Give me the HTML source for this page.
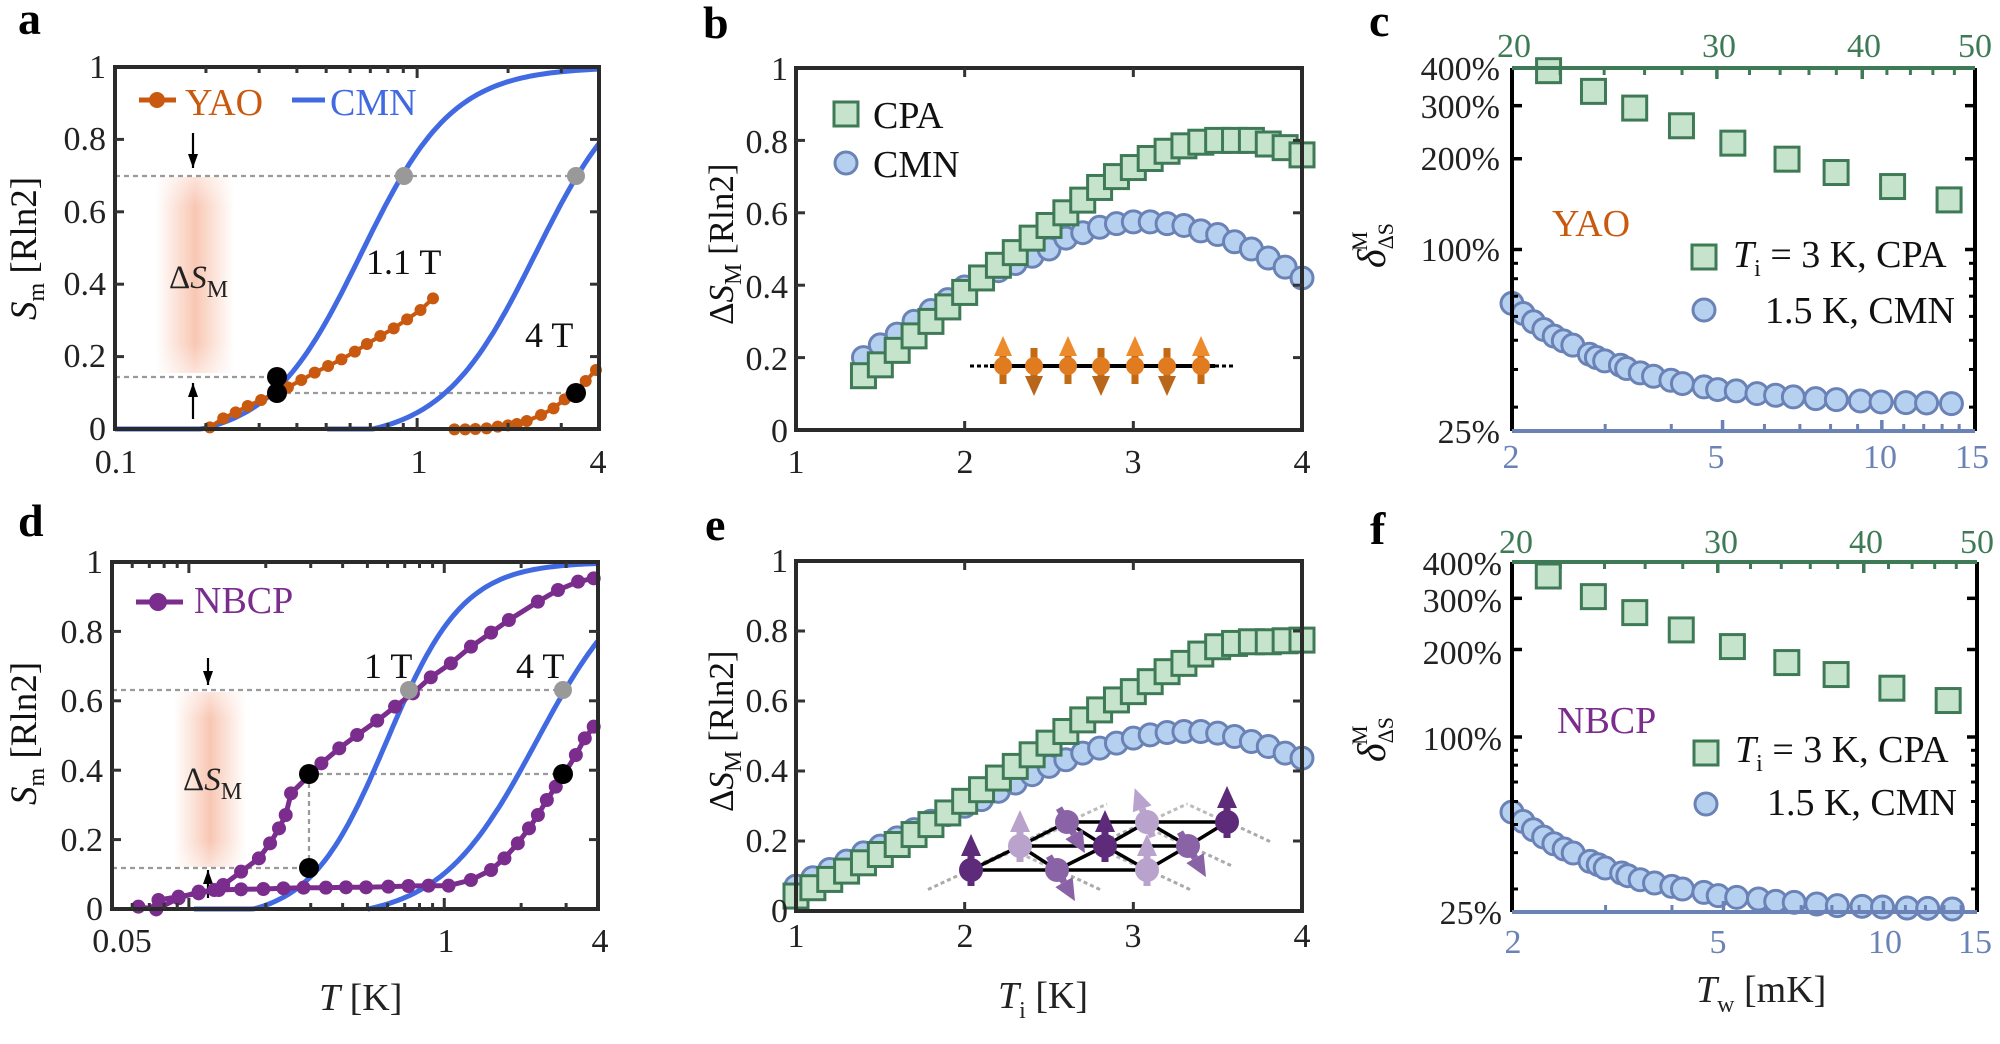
<!DOCTYPE html>
<html><head><meta charset="utf-8">
<style>
html,body{margin:0;padding:0;background:#fff;}
svg{display:block;}
text{font-family:"Liberation Serif","DejaVu Serif",serif;}
.t{font-size:34px;fill:#222;}
.lg{font-size:38px;}
.lt{font-size:46px;font-weight:bold;fill:#000;}
</style></head>
<body>
<svg id="s" xmlns="http://www.w3.org/2000/svg" width="2000" height="1044" viewBox="0 0 2000 1044" font-family="Liberation Serif, DejaVu Serif, serif">
<defs>
<linearGradient id="sh" x1="0" x2="1" y1="0" y2="0">
<stop offset="0" stop-color="#f7b9a0" stop-opacity="0"/>
<stop offset="0.5" stop-color="#f6b49a" stop-opacity="0.75"/>
<stop offset="1" stop-color="#f7b9a0" stop-opacity="0"/>
</linearGradient>
<linearGradient id="shv" x1="0" x2="0" y1="0" y2="1">
<stop offset="0" stop-color="#fff" stop-opacity="0.5"/>
<stop offset="0.15" stop-color="#fff" stop-opacity="0"/>
<stop offset="0.85" stop-color="#fff" stop-opacity="0"/>
<stop offset="1" stop-color="#fff" stop-opacity="0.5"/>
</linearGradient>
</defs>
<g id="g"></g>

<text class="lt" x="18" y="34">a</text>
<text class="lt" x="703" y="38">b</text>
<text class="lt" x="1369" y="36">c</text>
<text class="lt" x="18" y="536">d</text>
<text class="lt" x="705" y="540">e</text>
<text class="lt" x="1370" y="544">f</text>

<g class="t" text-anchor="end">
<text x="106" y="78">1</text><text x="106" y="150">0.8</text><text x="106" y="223">0.6</text>
<text x="106" y="295">0.4</text><text x="106" y="367">0.2</text><text x="106" y="440">0</text>
</g>
<g class="t" text-anchor="middle">
<text x="116" y="473">0.1</text><text x="419" y="473">1</text><text x="598" y="473">4</text>
</g>
<text class="lg" x="185" y="115" fill="#c8590f">YAO</text>
<text class="lg" x="330" y="115" fill="#4169e1">CMN</text>
<text x="366" y="274" font-size="36" fill="#111">1.1 T</text>
<text x="525" y="347" font-size="36" fill="#111">4 T</text>
<text transform="translate(36,320) rotate(-90)" font-size="37" fill="#111"><tspan font-style="italic">S</tspan><tspan font-size="24" dy="8">m</tspan><tspan dy="-8"> [Rln2]</tspan></text>

<g class="t" text-anchor="end">
<text x="788" y="80">1</text><text x="788" y="153">0.8</text><text x="788" y="225">0.6</text>
<text x="788" y="298">0.4</text><text x="788" y="370">0.2</text><text x="788" y="442">0</text>
</g>
<g class="t" text-anchor="middle">
<text x="796" y="473">1</text><text x="965" y="473">2</text><text x="1133" y="473">3</text><text x="1302" y="473">4</text>
</g>
<text class="lg" x="873" y="128" fill="#111">CPA</text>
<text class="lg" x="873" y="177" fill="#111">CMN</text>
<text transform="translate(733,325) rotate(-90)" font-size="35" fill="#111">Δ<tspan font-style="italic">S</tspan><tspan font-size="24" dy="8">M</tspan><tspan dy="-8"> [Rln2]</tspan></text>

<g class="t" text-anchor="end">
<text x="1500" y="80">400%</text><text x="1500" y="118">300%</text><text x="1500" y="170">200%</text>
<text x="1500" y="261">100%</text><text x="1500" y="443">25%</text>
</g>
<g class="t" text-anchor="middle" style="fill:#3e7a55">
<text x="1514" y="57">20</text><text x="1719" y="57">30</text><text x="1864" y="57">40</text><text x="1975" y="57">50</text>
</g>
<g class="t" text-anchor="middle" style="fill:#6a82b5">
<text x="1511" y="468">2</text><text x="1716" y="468">5</text><text x="1880" y="468">10</text><text x="1972" y="468">15</text>
</g>
<text class="lg" x="1552" y="236" fill="#c8590f">YAO</text>
<text x="1733" y="267" font-size="38" fill="#111"><tspan font-style="italic">T</tspan><tspan font-size="24" dy="9">i</tspan><tspan dy="-9"> = 3 K, CPA</tspan></text>
<text x="1955" y="323" font-size="38" fill="#111" text-anchor="end">1.5 K, CMN</text>
<text transform="translate(1385,268) rotate(-90)" font-size="40" fill="#111"><tspan font-style="italic">δ</tspan><tspan font-size="22" dy="8">ΔS</tspan><tspan font-size="22" dx="-28" dy="-26">M</tspan></text>

<g class="t" text-anchor="end">
<text x="103" y="573">1</text><text x="103" y="643">0.8</text><text x="103" y="712">0.6</text>
<text x="103" y="782">0.4</text><text x="103" y="851">0.2</text><text x="103" y="920">0</text>
</g>
<g class="t" text-anchor="middle">
<text x="122" y="952">0.05</text><text x="446" y="952">1</text><text x="600" y="952">4</text>
</g>
<text class="lg" x="194" y="613" fill="#7b2d8e">NBCP</text>
<text x="364" y="678" font-size="36" fill="#111">1 T</text>
<text x="516" y="678" font-size="36" fill="#111">4 T</text>
<text x="319" y="1010" font-size="38" fill="#222"><tspan font-style="italic">T</tspan> [K]</text>
<text transform="translate(36,805) rotate(-90)" font-size="37" fill="#111"><tspan font-style="italic">S</tspan><tspan font-size="24" dy="8">m</tspan><tspan dy="-8"> [Rln2]</tspan></text>

<g class="t" text-anchor="end">
<text x="788" y="572">1</text><text x="788" y="642">0.8</text><text x="788" y="712">0.6</text>
<text x="788" y="782">0.4</text><text x="788" y="852">0.2</text><text x="788" y="922">0</text>
</g>
<g class="t" text-anchor="middle">
<text x="796" y="947">1</text><text x="965" y="947">2</text><text x="1133" y="947">3</text><text x="1302" y="947">4</text>
</g>
<text x="998" y="1008" font-size="38" fill="#222"><tspan font-style="italic">T</tspan><tspan font-size="24" dy="10">i</tspan><tspan dy="-10"> [K]</tspan></text>
<text transform="translate(733,812) rotate(-90)" font-size="35" fill="#111">Δ<tspan font-style="italic">S</tspan><tspan font-size="24" dy="8">M</tspan><tspan dy="-8"> [Rln2]</tspan></text>

<g class="t" text-anchor="end">
<text x="1502" y="575">400%</text><text x="1502" y="612">300%</text><text x="1502" y="664">200%</text>
<text x="1502" y="750">100%</text><text x="1502" y="924">25%</text>
</g>
<g class="t" text-anchor="middle" style="fill:#3e7a55">
<text x="1516" y="553">20</text><text x="1721" y="553">30</text><text x="1866" y="553">40</text><text x="1977" y="553">50</text>
</g>
<g class="t" text-anchor="middle" style="fill:#6a82b5">
<text x="1513" y="953">2</text><text x="1718" y="953">5</text><text x="1885" y="953">10</text><text x="1975" y="953">15</text>
</g>
<text class="lg" x="1557" y="733" fill="#7b2d8e">NBCP</text>
<text x="1735" y="762" font-size="38" fill="#111"><tspan font-style="italic">T</tspan><tspan font-size="24" dy="9">i</tspan><tspan dy="-9"> = 3 K, CPA</tspan></text>
<text x="1957" y="815" font-size="38" fill="#111" text-anchor="end">1.5 K, CMN</text>
<text transform="translate(1385,762) rotate(-90)" font-size="40" fill="#111"><tspan font-style="italic">δ</tspan><tspan font-size="22" dy="8">ΔS</tspan><tspan font-size="22" dx="-28" dy="-26">M</tspan></text>
<text x="1696" y="1002" font-size="38" fill="#222"><tspan font-style="italic">T</tspan><tspan font-size="24" dy="10">w</tspan><tspan dy="-10">  [mK]</tspan></text>
<text x="169" y="288" font-size="33" fill="#222">Δ<tspan font-style="italic">S</tspan><tspan font-size="24" dy="9">M</tspan></text>
<text x="183" y="790" font-size="33" fill="#222">Δ<tspan font-style="italic">S</tspan><tspan font-size="24" dy="9">M</tspan></text>
</svg>
<script>
(function(){
var NS='http://www.w3.org/2000/svg';
var G=document.getElementById('g');
function el(t,a,p){var e=document.createElementNS(NS,t);for(var k in a)e.setAttribute(k,a[k]);(p||G).appendChild(e);return e;}
function line(x1,y1,x2,y2,c,w,extra){var a={x1:x1,y1:y1,x2:x2,y2:y2,stroke:c,'stroke-width':w};for(var k in extra)a[k]=extra[k];return el('line',a);}
function poly(pts,c,w){el('polyline',{points:pts.map(function(p){return p[0].toFixed(1)+','+p[1].toFixed(1)}).join(' '),fill:'none',stroke:c,'stroke-width':w,'stroke-linejoin':'round'});}
function dot(x,y,r,f,s,sw){el('circle',{cx:x,cy:y,r:r,fill:f,stroke:s||'none','stroke-width':sw||0});}
function sq(x,y,h){el('rect',{x:x-h,y:y-h,width:2*h,height:2*h,fill:'#c6e4cc',stroke:'#3e7a55','stroke-width':3});}
function circ(x,y){dot(x,y,11,'#b6d0f0','#6a82b5',3);}
var BLUE='#4169e1',OR='#c8590f',PU='#7b2d8e',GR='#3e7a55',BG='#6a82b5',DASH='#9a9a9a';
function lg(x){return Math.log(x)/Math.LN10;}
function frame(x0,y0,x1,y1){el('rect',{x:x0,y:y0,width:x1-x0,height:y1-y0,fill:'none',stroke:'#2a2a2a','stroke-width':4});}
function logistic(u,u0,w){return 1/(1+Math.exp(-(u-u0)/w));}
function sharp(u,u0,w){var s=logistic(u,u0,w);var s0=0.03;return Math.max(0,(s-s0)/(1-s0));}
function shade(x0,y0,x1,y1){el('rect',{x:x0,y:y0,width:x1-x0,height:y1-y0,fill:'url(#sh)'});el('rect',{x:x0,y:y0,width:x1-x0,height:y1-y0,fill:'url(#shv)'});}
function arrow(x,y1,y2){line(x,y1,x,y2,'#000',2.2);var d=y2>y1?1:-1;el('polygon',{points:(x-5)+','+(y2-d*14)+' '+(x+5)+','+(y2-d*14)+' '+x+','+y2,fill:'#000'});}
function hticks(xs,y0,y1,len){xs.forEach(function(x){line(x,y0,x,y0+len,'#333',3);line(x,y1,x,y1-len,'#333',3);});}
function vticks(ys,x0,x1,len){ys.forEach(function(y){line(x0,y,x0+len,y,'#333',3);line(x1,y,x1-len,y,'#333',3);});}

/* Panel a */
(function(){
var X0=115,X1=599,Y0=67,Y1=429;
function X(T){return X0+(lg(T)+1)/1.602*(X1-X0);}
function Y(s){return Y1-s*(Y1-Y0);}
shade(156,177,234,373);
line(X0,176,576,176,DASH,2.2,{'stroke-dasharray':'5,4'});
line(X0,377,277,377,DASH,2.2,{'stroke-dasharray':'5,4'});
line(277,393,576,393,DASH,2.2,{'stroke-dasharray':'5,4'});
arrow(193,133,168);arrow(193,419,383);
var p=[];for(var i=0;i<=120;i++){var u=-1+i/120*1.602;p.push([X(Math.pow(10,u)),Y(sharp(u,-0.185,0.152))]);}poly(p,BLUE,5);
p=[];for(i=0;i<=100;i++){var u2=-0.298+i/100*0.9;p.push([X(Math.pow(10,u2)),Y(sharp(u2,0.392,0.155))]);}poly(p,BLUE,5);
var dx=[470,500,528,555,585,615,645,675,705,735,765,795,822,852,882,912,942,970],dy=[1282,1255,1237,1218,1200,1183,1162,1140,1118,1098,1078,1055,1032,1008,985,958,930,895];
p=dx.map(function(d,i){return [d*0.4464,dy[i]/3];});poly(p,OR,4);p.forEach(function(q){dot(q[0],q[1],6,OR);});
dx=[1018,1042,1065,1090,1115,1138,1158,1180,1212,1240,1265,1290,1312,1335];dy=[1288,1288,1287,1285,1280,1276,1272,1263,1245,1225,1198,1180,1143,1110];
p=dx.map(function(d,i){return [d*0.4464,dy[i]/3];});poly(p,OR,4);p.forEach(function(q){dot(q[0],q[1],6,OR);});
dot(404,176,9,'#999');dot(576,176,9,'#999');
dot(277,377,10,'#000');dot(277,393,10,'#000');dot(576,393,10,'#000');
frame(X0,Y0,X1,Y1);
var t=[];[0.2,0.3,0.4,0.5,0.6,0.7,0.8,0.9,2,3].forEach(function(v){t.push(X(v));});hticks(t,Y0,Y1,6);hticks([X(1)],Y0,Y1,11);
vticks([0.2,0.4,0.6,0.8].map(Y),X0,X1,9);
line(139,100,176,100,OR,5);dot(157,100,8,OR);line(292,100,325,100,BLUE,5);
})();

/* Panel b */
(function(){
var X0=796,X1=1302,Y0=68,Y1=430;
function X(T){return X0+(T-1)/3*(X1-X0);}
function Y(v){return Y1-v*(Y1-Y0);}
var cmn=[0.20,0.235,0.265,0.30,0.33,0.36,0.395,0.42,0.44,0.46,0.48,0.50,0.53,0.545,0.56,0.57,0.575,0.575,0.57,0.565,0.55,0.54,0.52,0.50,0.475,0.45,0.42];
var cpa=[0.15,0.18,0.22,0.26,0.30,0.34,0.38,0.42,0.455,0.49,0.53,0.565,0.60,0.635,0.67,0.70,0.725,0.75,0.77,0.785,0.795,0.80,0.80,0.80,0.79,0.78,0.76];
cmn.forEach(function(v,i){circ(X(1.4+0.1*i),Y(v));});
cpa.forEach(function(v,i){sq(X(1.4+0.1*i),Y(v),12);});
frame(X0,Y0,X1,Y1);
hticks([X(2),X(3)],Y0,Y1,9);vticks([0.2,0.4,0.6,0.8].map(Y),X0,X1,9);
sq(846,114,12);circ(846,163);
line(970,366,990,366,'#000',3,{'stroke-dasharray':'4,3'});line(1215,366,1235,366,'#000',3,{'stroke-dasharray':'4,3'});
line(990,366,1215,366,'#000',4);
[1003,1034,1068,1101,1135,1167,1201].forEach(function(x,i){
 var up=(i%2==0);
 el('rect',{x:x-3.5,y:348,width:7,height:36,fill:'#c26a14'});
 if(up){el('polygon',{points:(x-9)+',356 '+(x+9)+',356 '+x+',336',fill:'#ec8a2c'});}
 else{el('polygon',{points:(x-9)+',376 '+(x+9)+',376 '+x+',396',fill:'#b8661c'});}
 dot(x,366,9,'#e07b1f');
});
})();

/* Panels c & f */
function panelCF(Y0,Y1,sqx,sqy,cx,cy,cxspan){
var X0=1512,X1=1975;
if(Y0>400)X1=1977;
var topX=function(v){return X0+(lg(v)-lg(20))/(lg(50)-lg(20))*(X1-X0);};
var botX=function(v){return X0+(lg(v)-lg(2))/(lg(15)-lg(2))*(X1-X0);};
var Yp=function(p){return Y0+(lg(4)-lg(p))/lg(16)*(Y1-Y0);};
cx.forEach(function(d,i){circ(X0+(d-388)/cxspan*(X1-X0),Y0+cy[i]*(Y1-Y0));});
sqx.forEach(function(f,i){sq(X0+f*(X1-X0),Y0+sqy[i]*(Y1-Y0),12);});
line(X0,Y0,X0,Y1,'#000',4);line(X1,Y0,X1,Y1,'#000',4);
line(X0,Y0,X1,Y0,GR,4);line(X0,Y1,X1,Y1,BG,4);
[22,24,26,28,32,34,36,38,42,44,46,48].forEach(function(v){line(topX(v),Y0,topX(v),Y0+7,GR,3);});
[30,40].forEach(function(v){line(topX(v),Y0,topX(v),Y0+11,GR,3.5);});
[3,4,6,7,8,9,11,12,13,14].forEach(function(v){line(botX(v),Y1,botX(v),Y1-7,BG,3);});
[5,10].forEach(function(v){line(botX(v),Y1,botX(v),Y1-11,BG,3.5);});
[3,2,1].forEach(function(p){line(X0,Yp(p),X0+10,Yp(p),'#000',3.5);line(X1,Yp(p),X1-10,Yp(p),'#000',3.5);});
[0.9,0.8,0.7,0.6,0.5,0.4,0.3].forEach(function(p){line(X0,Yp(p),X0+6,Yp(p),'#000',3);line(X1,Yp(p),X1-6,Yp(p),'#000',3);});
}
var cxs=[388,415,440,465,490,512,535,575,592,612,650,665,698,730,772,800,852,885,930,980,1025,1068,1122,1172,1230,1280,1340,1390,1450];
var cyc=[910,940,965,988,1008,1022,1035,1062,1072,1082,1095,1105,1118,1128,1140,1150,1160,1168,1172,1180,1185,1190,1195,1198,1202,1205,1207,1208,1210].map(function(y){return (y-205)/1087;});
panelCF(68,431,[.079,.176,.265,.366,.477,.594,.700,.822,.944],[213,275,325,378,430,478,518,560,600].map(function(y){return (y-205)/1087;}),cxs,cyc,1119);
sq(1704,257,12);circ(1704,310);
var cxf=[388,415,440,465,490,515,537,578,598,615,655,670,700,735,777,803,855,890,935,988,1030,1075,1130,1180,1240,1290,1350,1400,1460];
var cyf=[937,965,990,1012,1032,1048,1060,1085,1095,1105,1120,1128,1140,1150,1160,1168,1178,1188,1193,1198,1205,1208,1213,1218,1220,1222,1225,1226,1228].map(function(y){return (y-186)/1051;});
panelCF(562,912,[.078,.175,.264,.364,.474,.591,.697,.817,.938],[228,290,338,390,440,488,524,565,602].map(function(y){return (y-186)/1051;}),cxf,cyf,1132);
sq(1706,753,12);circ(1706,804);

/* Panel d */
(function(){
var X0=112,X1=598,Y0=562,Y1=909;
function X(T){return X0+(lg(T)-lg(0.05))/1.903*(X1-X0);}
function Y(s){return Y1-s*(Y1-Y0);}
shade(174,692,246,867);
line(X0,690,563,690,DASH,2.2,{'stroke-dasharray':'5,4'});
line(X0,868,309,868,DASH,2.2,{'stroke-dasharray':'5,4'});
line(309,774,563,774,DASH,2.2,{'stroke-dasharray':'5,4'});
line(309,774,309,868,DASH,2.2,{'stroke-dasharray':'5,4'});
arrow(208,658,685);arrow(208,898,870);
var p=[],i,u;
for(i=0;i<=120;i++){u=-0.98+i/120*1.582;p.push([X(Math.pow(10,u)),Y(sharp(u,-0.225,0.15))]);}poly(p,BLUE,5);
p=[];for(i=0;i<=100;i++){u=-0.30+i/100*0.902;p.push([X(Math.pow(10,u)),Y(sharp(u,0.362,0.19))]);}poly(p,BLUE,5);
var ux=[310,350,355,400,445,480,500,540,580,605,625,640,652,690,720,760,800,845,885,925,965,1010,1055,1100,1140,1205,1250,1295,1330],
uy=[1220,1228,1200,1190,1180,1170,1155,1115,1075,1030,985,945,880,830,790,745,705,662,620,580,532,490,440,398,360,305,270,245,235];
p=ux.map(function(d,i){return [d*0.4464,500+uy[i]/3];});poly(p,PU,5);p.forEach(function(q){dot(q[0],q[1],7,PU);});
var lx=[350,400,445,490,540,590,635,680,730,775,820,870,915,960,1005,1055,1100,1130,1160,1185,1205,1225,1245,1262,1290,1310,1330],
ly=[1228,1195,1175,1170,1168,1167,1165,1163,1163,1162,1162,1160,1158,1157,1157,1140,1110,1075,1030,985,945,900,860,825,765,715,680];
p=lx.map(function(d,i){return [d*0.4464,500+ly[i]/3];});poly(p,PU,5);p.forEach(function(q){dot(q[0],q[1],7,PU);});
dot(409,690,9,'#999');dot(563,690,9,'#999');
dot(309,774,10,'#000');dot(309,868,10,'#000');dot(563,774,10,'#000');
frame(X0,Y0,X1,Y1);
var t=[];[0.06,0.07,0.08,0.09,0.2,0.3,0.4,0.5,0.6,0.7,0.8,0.9,2,3].forEach(function(v){t.push(X(v));});hticks(t,Y0,Y1,6);hticks([X(0.1),X(1)],Y0,Y1,11);
vticks([0.2,0.4,0.6,0.8].map(Y),X0,X1,9);
line(136,602,183,602,PU,5);dot(158,602,9,PU);
})();

/* Panel e */
(function(){
var X0=796,X1=1302,Y0=561,Y1=911;
function X(T){return X0+(T-1)/3*(X1-X0);}
function Y(v){return Y1-v*(Y1-Y0);}
var cpaD=[1190,1165,1140,1115,1090,1065,1035,1005,975,940,905,870,835,800,765,730,695,660,630,600,575,545,515,490,462,440,430,425,425,422,420];
var cmnD=[1160,1135,1110,1085,1060,1040,1015,990,965,945,920,900,875,850,825,800,780,760,745,730,715,705,698,695,695,700,710,725,740,760,775];
cmnD.forEach(function(d,i){circ(X(1+0.1*i),Y((1235-d)/1053));});
cpaD.forEach(function(d,i){sq(X(1+0.1*i),Y((1235-d)/1053),12);});
frame(X0,Y0,X1,Y1);
hticks([X(2),X(3)],Y0,Y1,9);vticks([0.2,0.4,0.6,0.8].map(Y),X0,X1,9);
var r1=[[1067,822],[1147,822],[1227,822]],r2=[[1020,846],[1105,846],[1188,846]],r3=[[971,870],[1057,870],[1147,870]];
function L(a,b){line(a[0],a[1],b[0],b[1],'#000',3.5);}
[[r3[0],-1],[r1[2],1],[r2[0],-1],[r2[2],1],[r1[0],-1],[r3[2],1],[r1[1],-1],[r3[1],1]].forEach(function(a){var n=a[0];line(n[0]+a[1]*14,n[1]+6,n[0]+a[1]*44,n[1]+20,'#aaa',3,{'stroke-dasharray':'4,3'});line(n[0]-a[1]*14,n[1]-6,n[0]-a[1]*40,n[1]-18,'#bbb',3,{'stroke-dasharray':'4,3'});});
L(r1[0],r1[2]);L(r2[0],r2[2]);L(r3[0],r3[2]);
L(r3[0],r2[0]);L(r2[0],r1[0]);L(r3[1],r2[1]);L(r2[1],r1[1]);L(r3[2],r2[2]);L(r2[2],r1[2]);
L(r2[0],r3[1]);L(r1[0],r2[1]);L(r2[1],r3[2]);L(r1[1],r2[2]);
var D='#5e2a7a',M='#8a62a6',Lt='#b9a3cc';
function spin(n,c,ang){var x=n[0],y=n[1];var a=ang*Math.PI/180;var dx=Math.sin(a),dy=-Math.cos(a);
 line(x-dx*16,y-dy*16,x+dx*14,y+dy*14,c,7);
 var tx=x+dx*36,ty=y+dy*36,bx=x+dx*14,by=y+dy*14;
 el('polygon',{points:(bx-dy*10)+','+(by+dx*10)+' '+(bx+dy*10)+','+(by-dx*10)+' '+tx+','+ty,fill:c});
 dot(x,y,12,c);}
spin(r3[0],D,0);spin(r2[0],Lt,0);spin(r1[0],M,150);spin(r3[1],M,150);spin(r2[1],D,0);spin(r1[1],Lt,-20);spin(r2[2],M,150);spin(r3[2],Lt,0);spin(r1[2],D,0);
})();
})();
</script>
</body></html>
